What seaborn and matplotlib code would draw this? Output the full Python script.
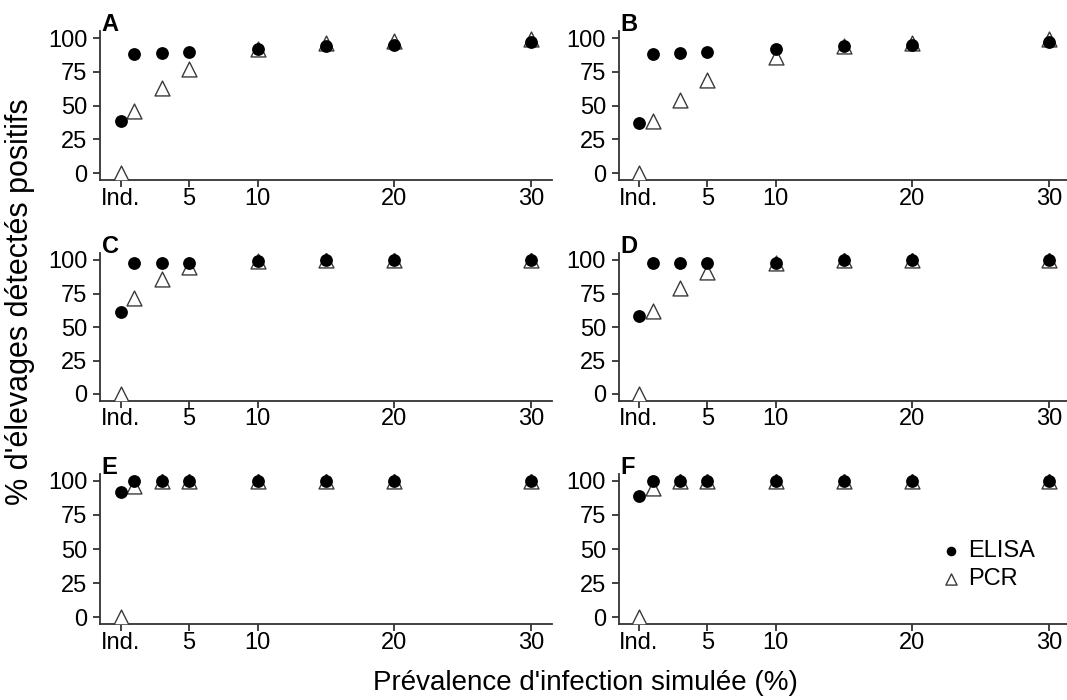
import numpy as np
import pandas as pd
import matplotlib
matplotlib.use("Agg")
import matplotlib.pyplot as plt
import seaborn as sns

sns.set_style("ticks")
plt.rcParams['font.family'] = ['Liberation Sans', 'DejaVu Sans']
plt.rcParams['text.color'] = 'black'

# data
prevalence = [0, 1, 3, 5, 10, 15, 20, 30]
x_ticks = [0, 5, 10, 20, 30]
x_ticklabels = ["Ind.", "5", "10", "20", "30"]
panels = ["A", "B", "C", "D", "E", "F"]

elisa_A = [39, 88, 89, 90, 92, 94, 95, 97]
pcr_A = [0, 46, 63, 77, 92, 96, 98, 99]
elisa_B = [37, 88, 89, 90, 92, 94, 95, 97]
pcr_B = [0, 39, 54, 69, 86, 94, 96, 99]
elisa_C = [61, 98, 98, 98, 99, 100, 100, 100]
pcr_C = [0, 72, 86, 95, 99, 100, 100, 100]
elisa_D = [58, 98, 98, 98, 98, 100, 100, 100]
pcr_D = [0, 62, 79, 91, 98, 100, 100, 100]
elisa_E = [92, 100, 100, 100, 100, 100, 100, 100]
pcr_E = [0, 96, 100, 100, 100, 100, 100, 100]
elisa_F = [89, 100, 100, 100, 100, 100, 100, 100]
pcr_F = [0, 95, 100, 100, 100, 100, 100, 100]

elisa = [elisa_A, elisa_B, elisa_C, elisa_D, elisa_E, elisa_F]
pcr = [pcr_A, pcr_B, pcr_C, pcr_D, pcr_E, pcr_F]

rows = []
for p, e_vals, p_vals in zip(panels, elisa, pcr):
    for x, ve, vp in zip(prevalence, e_vals, p_vals):
        rows.append({"panel": p, "prev": x, "ELISA": ve, "PCR": vp})
df = pd.DataFrame(rows)

fig = plt.figure(figsize=(10.67, 7.0), dpi=100)

W, H = 1067.0, 700.0
col_left = [100, 618.5]
col_width = [452, 451]
row_top = [31.3, 253.3, 474]
row_bottom = [180, 400.7, 624]

for i, p in enumerate(panels):
    r, c = i // 2, i % 2
    ax = fig.add_axes([col_left[c] / W, 1 - row_bottom[r] / H,
                       col_width[c] / W, (row_bottom[r] - row_top[r]) / H])
    sub = df[df["panel"] == p]
    sns.scatterplot(data=sub, x="prev", y="PCR", marker="^", s=115,
                    color="white", edgecolor="#3a3a3a", linewidth=1.0,
                    ax=ax, label="PCR", zorder=3)
    sns.scatterplot(data=sub, x="prev", y="ELISA", marker="o", s=85,
                    color="black", edgecolor="black", linewidth=0,
                    ax=ax, label="ELISA", zorder=4)
    ax.set_xlim(-1.5, 31.5)
    ax.set_ylim(-5, 105)
    ax.set_xticks(x_ticks)
    ax.set_xticklabels(x_ticklabels)
    ax.set_yticks([0, 25, 50, 75, 100])
    ax.set_xlabel("")
    ax.set_ylabel("")
    ax.tick_params(labelsize=17, length=5, width=1.3, colors="#333333",
                   labelcolor="black")
    ax.tick_params(axis="x", pad=0.5)
    ax.tick_params(axis="y", pad=4)
    for s in ["left", "bottom"]:
        ax.spines[s].set_linewidth(1.3)
        ax.spines[s].set_color("#333333")
    sns.despine(ax=ax)
    ax.text(0.004, 1.0, p, transform=ax.transAxes, fontsize=17,
            fontweight="bold", ha="left", va="baseline", color="black")
    handles, labels = ax.get_legend_handles_labels()
    if p == "F":
        ax.legend([handles[1], handles[0]], [labels[1], labels[0]],
                  loc="center left", bbox_to_anchor=(0.717, 0.393),
                  frameon=False, fontsize=17, handletextpad=0.3,
                  handlelength=0.8, markerscale=0.75,
                  labelspacing=0.25, borderpad=0, borderaxespad=0)
    else:
        ax.get_legend().remove()

fig.text(585 / W, 1 - 683 / H, "Prévalence d'infection simulée (%)",
         fontsize=20, ha="center", va="center")
fig.text(20 / W, 1 - 302 / H, "% d'élevages détectés positifs",
         fontsize=22, ha="center", va="center", rotation=90)

fig.savefig("out.png", dpi=100)
